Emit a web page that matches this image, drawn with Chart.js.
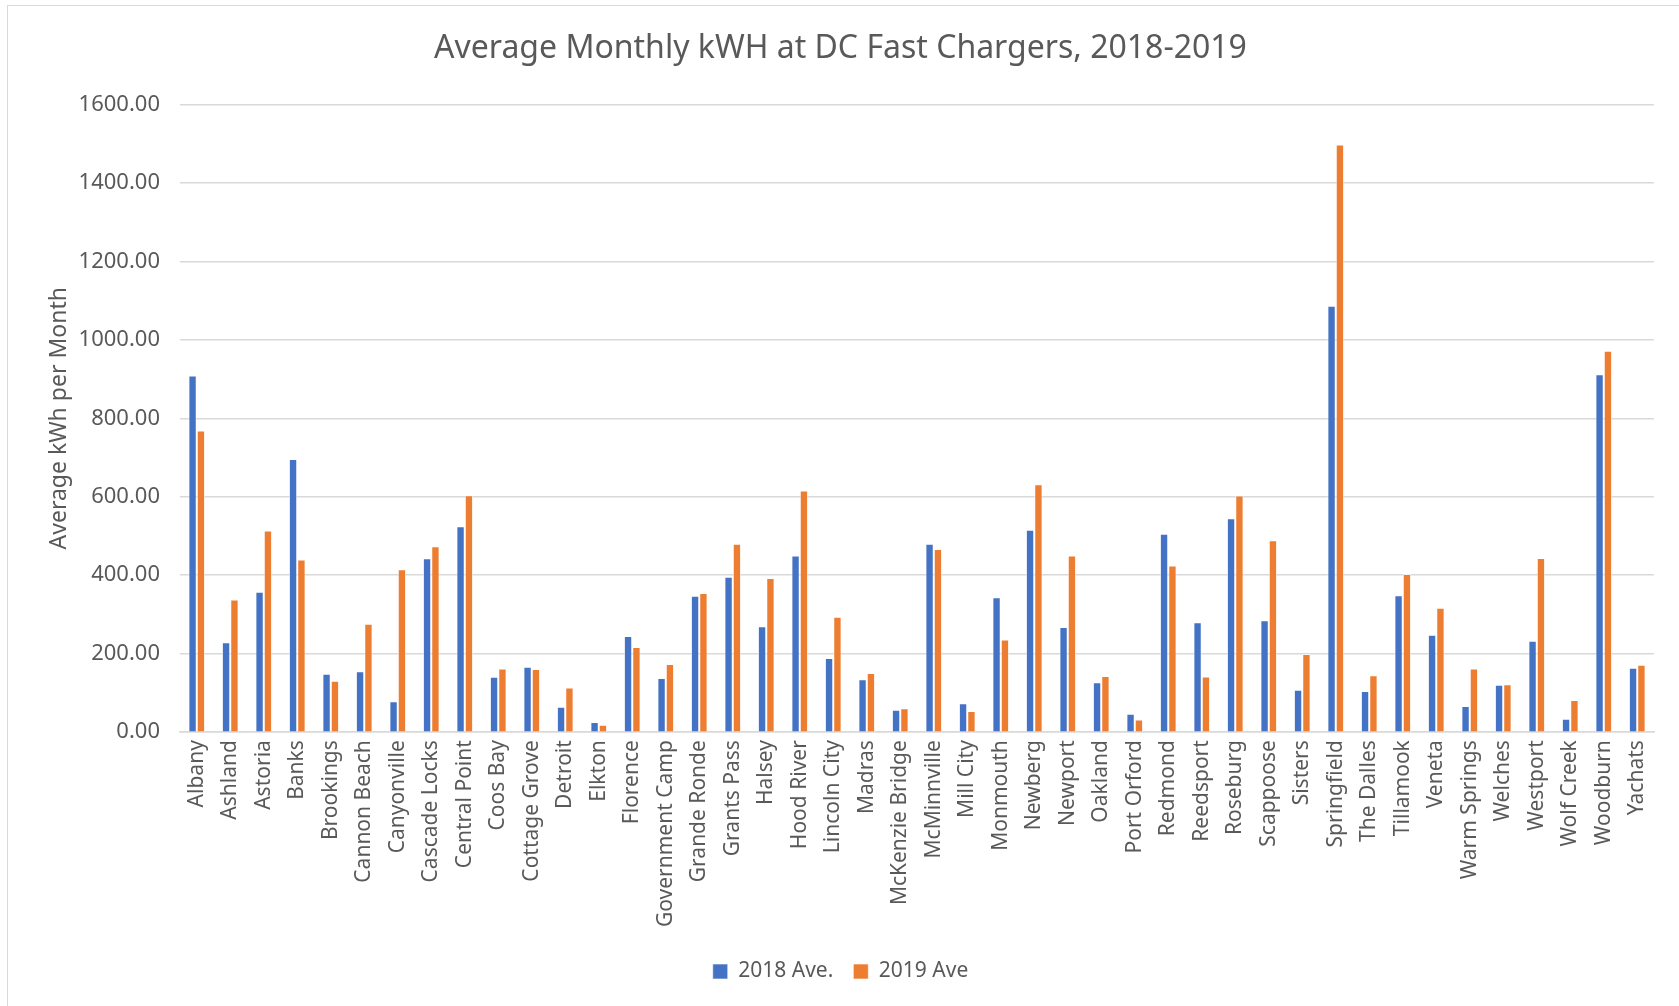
<!DOCTYPE html>
<html>
<head>
<meta charset="utf-8">
<script src="https://cdn.jsdelivr.net/npm/chart.js@4"></script>
<style>
  html, body { margin: 0; padding: 0; background: #fff; }
  #frame { position: absolute; left: 7px; top: 5px; width: 1700px; height: 1030px; border: 1px solid #d9d9d9; }
  #wrap { position: absolute; left: 0; top: 0; width: 1679px; height: 1006px; }
</style>
</head>
<body>
<div id="frame"></div>
<div id="wrap"><canvas id="myChart"></canvas></div>
<script>
const towns = ["Albany", "Ashland", "Astoria", "Banks", "Brookings", "Cannon Beach", "Canyonville",
  "Cascade Locks", "Central Point", "Coos Bay", "Cottage Grove", "Detroit", "Elkton", "Florence",
  "Government Camp", "Grande Ronde", "Grants Pass", "Halsey", "Hood River", "Lincoln City", "Madras",
  "McKenzie Bridge", "McMinnville", "Mill City", "Monmouth", "Newberg", "Newport", "Oakland",
  "Port Orford", "Redmond", "Reedsport", "Roseburg", "Scappoose", "Sisters", "Springfield",
  "The Dalles", "Tillamook", "Veneta", "Warm Springs", "Welches", "Westport", "Wolf Creek",
  "Woodburn", "Yachats"]
const ave2018 = [909, 229, 358, 696, 149, 155, 79, 443, 525, 141, 167, 65, 26, 245,
  138, 348, 396, 270, 450, 189, 135, 57, 480, 74, 344, 516, 268, 127,
  47, 506, 280, 545, 285, 108, 1087, 105, 349, 248, 67, 121, 233, 34, 912, 164]
const ave2019 = [769, 338, 514, 440, 131, 276, 415, 474, 604, 162, 161, 114, 19, 217,
  174, 355, 480, 393, 616, 294, 151, 61, 467, 54, 236, 632, 450, 143,
  32, 425, 142, 603, 489, 199, 1498, 145, 403, 317, 162, 122, 444, 82, 972, 172]
const seriesNames = ["2018 Ave.", "2019 Ave"]

const textColor = '#595959'
const fontFam = "'Noto Sans', 'Open Sans', sans-serif"

const ctx = document.getElementById('myChart')

new Chart(ctx, {
  type: 'bar',
  data: {
    labels: towns,
    datasets: [{
      label: seriesNames[0],
      data: ave2018,
      backgroundColor: '#4472C4',
      borderColor: 'rgba(255,255,255,0.6)',
      borderWidth: 1
    },
    {
      label: seriesNames[1],
      data: ave2019,
      backgroundColor: '#ED7D31',
      borderColor: 'rgba(255,255,255,0.6)',
      borderWidth: 1
    }]
  },
  options: {
    responsive: true,
    maintainAspectRatio: false,
    animation: false,
    datasets: { bar: { categoryPercentage: 0.5, barPercentage: 1 } },
    layout: { padding: { left: 27, right: 25, top: 12, bottom: 14 } },
    plugins: {
      title: {
        display: true,
        text: 'Average Monthly kWH at DC Fast Chargers, 2018-2019',
        color: textColor,
        font: { family: fontFam, size: 32, weight: 'normal' },
        padding: { top: 18, bottom: 36 }
      },
      legend: {
        position: 'bottom',
        labels: {
          color: textColor,
          font: { family: fontFam, size: 21 },
          boxWidth: 15,
          boxHeight: 15,
          padding: 20
        }
      },
      tooltip: { enabled: false }
    },
    scales: {
      x: {
        grid: { display: false, drawTicks: false },
        border: { display: true, color: '#d9d9d9', width: 1.5 },
        ticks: {
          color: textColor,
          font: { family: fontFam, size: 21 },
          minRotation: 90,
          maxRotation: 90,
          autoSkip: false,
          padding: 8
        },
        afterFit: function (scale) { scale.height += 6 }
      },
      y: {
        min: 0,
        max: 1600,
        grid: { color: '#d9d9d9', lineWidth: 1.5, drawTicks: false },
        border: { display: false },
        ticks: {
          stepSize: 200,
          color: textColor,
          font: { family: fontFam, size: 22 },
          padding: 20,
          callback: function (v) { return v.toFixed(2) }
        },
        title: {
          display: true,
          text: 'Average kWh per Month',
          color: textColor,
          font: { family: fontFam, size: 23 },
          padding: { top: 19, bottom: -15 }
        }
      }
    }
  }
})
</script>
</body>
</html>
